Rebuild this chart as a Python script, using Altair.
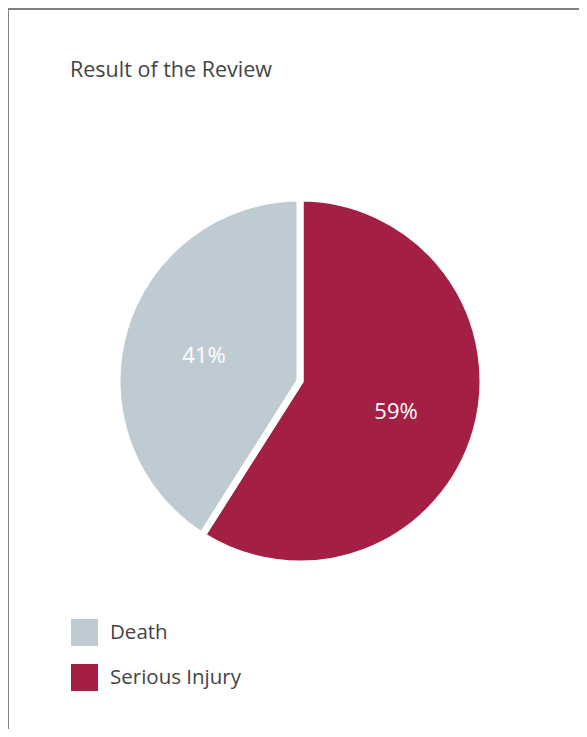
import altair as alt
import pandas as pd

# ---- data ----
categories = ["Serious Injury", "Death"]
shares = [59, 41]
labels = ["59%", "41%"]
stack_order = [0, 1]
legend_order = ["Death", "Serious Injury"]
colors = ["#BFCBD3", "#A31F44"]

df = pd.DataFrame({"category": categories, "share": shares,
                   "label": labels, "order": stack_order})
frame_df = pd.DataFrame({"k": [0]})

W, H = 571, 721
CX, CY = 292, 373
FONT = "Open Sans"

base = alt.Chart(df)

pie = base.mark_arc(outerRadius=183, stroke="white", strokeWidth=7).encode(
    x=alt.value(CX), y=alt.value(CY),
    theta=alt.Theta("share:Q", stack=True),
    color=alt.Color(
        "category:N",
        scale=alt.Scale(domain=legend_order, range=colors),
        legend=alt.Legend(
            title=None, orient="none", legendX=63, legendY=611,
            symbolType="square", symbolSize=729, symbolStrokeWidth=0,
            labelFontSize=20.5, labelFont=FONT, labelColor="#444444",
            labelOffset=12, rowPadding=18,
        ),
    ),
    order=alt.Order("order:Q"),
)

text = base.mark_text(radius=100, fontSize=22, font=FONT, color="white",
                      baseline="middle", align="center", dy=3).encode(
    x=alt.value(CX), y=alt.value(CY),
    theta=alt.Theta("share:Q", stack=True),
    text="label:N",
    order=alt.Order("order:Q"),
)

left_rule = alt.Chart(frame_df).mark_rule(color="#808080", strokeWidth=2).encode(
    x=alt.value(0), y=alt.value(0), y2=alt.value(H)
)
top_rule = alt.Chart(frame_df).mark_rule(color="#808080", strokeWidth=2).encode(
    y=alt.value(1), x=alt.value(0), x2=alt.value(W)
)

chart = alt.layer(left_rule, top_rule, pie, text).properties(
    width=W, height=H,
    title=alt.TitleParams(
        "Result of the Review", anchor="start", frame="group",
        font=FONT, fontSize=21.5, fontWeight="normal", color="#444444",
        baseline="middle", offset=0, dx=62, dy=85,
    ),
    autosize=alt.AutoSizeParams(type="none"),
    padding=0,
).configure_view(stroke=None)

chart.save("out.html", embed_options={"renderer": "svg", "actions": False})
